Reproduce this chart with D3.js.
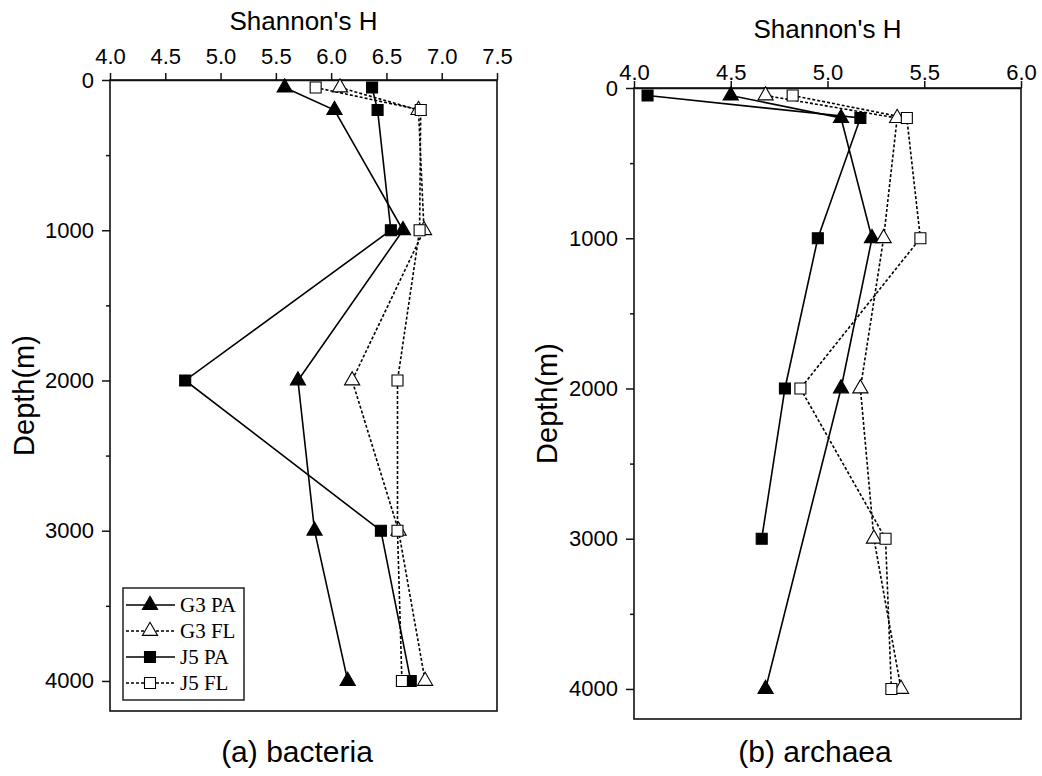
<!DOCTYPE html>
<html>
<head>
<meta charset="utf-8">
<script src="https://cdn.jsdelivr.net/npm/d3@7"></script>
<style>
  html, body { margin: 0; padding: 0; background: #fff; }
  svg { display: block; }
  text { font-family: "Liberation Sans", Arial, sans-serif; fill: #000; }
</style>
</head>
<body>
<svg id="chart" width="1042" height="776"></svg>
<script>
// ---------------- DATA ----------------
const depths = [50, 200, 1000, 2000, 3000, 4000];
const seriesNames = ["G3 PA", "G3 FL", "J5 PA", "J5 FL"];

const bacteriaG3PA = [5.58, 6.03, 6.65, 5.70, 5.85, 6.15];
const bacteriaG3FL = [6.08, 6.79, 6.84, 6.19, 6.61, 6.85];
const bacteriaJ5PA = [6.37, 6.42, 6.54, 4.68, 6.45, 6.72];
const bacteriaJ5FL = [5.86, 6.81, 6.80, 6.60, 6.60, 6.64];

const archaeaG3PA = [4.50, 5.07, 5.23, 5.07, null, 4.68];
const archaeaG3FL = [4.68, 5.36, 5.29, 5.17, 5.24, 5.38];
const archaeaJ5PA = [4.07, 5.17, 4.95, 4.78, 4.66, null];
const archaeaJ5FL = [4.82, 5.41, 5.48, 4.86, 5.30, 5.33];

const bacteriaTicksX = [4.0, 4.5, 5.0, 5.5, 6.0, 6.5, 7.0, 7.5];
const archaeaTicksX = [4.0, 4.5, 5.0, 5.5, 6.0];
const depthTicks = [0, 1000, 2000, 3000, 4000];
const depthMinorTicks = [500, 1500, 2500, 3500];
const depthDomain = [0, 4200];

// ---------------- STYLE ----------------
const styles = {
  "G3 PA": { symbol: d3.symbolTriangle, size: 100, fill: "#000", dash: null },
  "G3 FL": { symbol: d3.symbolTriangle, size: 100, fill: "#fff", dash: "3,2" },
  "J5 PA": { symbol: d3.symbolSquare, size: 121, fill: "#000", dash: null },
  "J5 FL": { symbol: d3.symbolSquare, size: 121, fill: "#fff", dash: "3,2" }
};

const svg = d3.select("#chart");

function drawPanel(cfg) {
  const x = d3.scaleLinear().domain(cfg.xDomain).range([cfg.left, cfg.right]);
  const y = d3.scaleLinear().domain(depthDomain).range([cfg.top, cfg.bottom]);
  const g = svg.append("g");

  // frame
  g.append("rect")
    .attr("x", cfg.left).attr("y", cfg.top)
    .attr("width", cfg.right - cfg.left).attr("height", cfg.bottom - cfg.top)
    .attr("fill", "none").attr("stroke", "#111").attr("stroke-width", 1.6);

  // top x axis
  const xAxis = g.append("g")
    .attr("transform", `translate(0,${cfg.top})`)
    .call(d3.axisTop(x).tickValues(cfg.xTicks).tickFormat(d3.format(".1f"))
      .tickSize(7).tickSizeOuter(0).tickPadding(cfg.xPad));
  xAxis.select(".domain").attr("stroke", "#111").attr("stroke-width", 1.6);
  xAxis.selectAll(".tick line").attr("stroke", "#111").attr("stroke-width", 1.5);
  xAxis.selectAll("text").style("font-size", "22px").style("font-family", "Liberation Sans, Arial, sans-serif").attr("fill", "#000");

  // left y axis (major)
  const yAxis = g.append("g")
    .attr("transform", `translate(${cfg.left},0)`)
    .call(d3.axisLeft(y).tickValues(depthTicks).tickFormat(d3.format("d"))
      .tickSize(8).tickSizeOuter(0).tickPadding(8));
  yAxis.select(".domain").remove();
  yAxis.selectAll(".tick line").attr("stroke", "#111").attr("stroke-width", 1.5);
  yAxis.selectAll("text").style("font-size", "22px").style("font-family", "Liberation Sans, Arial, sans-serif").attr("fill", "#000");

  // minor y ticks
  const yMinor = g.append("g")
    .attr("transform", `translate(${cfg.left},0)`)
    .call(d3.axisLeft(y).tickValues(depthMinorTicks).tickFormat("").tickSize(4).tickSizeOuter(0));
  yMinor.select(".domain").remove();
  yMinor.selectAll(".tick line").attr("stroke", "#111").attr("stroke-width", 1.5);

  // axis titles
  g.append("text")
    .attr("x", (cfg.left + cfg.right) / 2).attr("y", cfg.titleY)
    .attr("text-anchor", "middle").style("font-size", "26px")
    .text("Shannon's H");
  g.append("text")
    .attr("transform", `translate(${cfg.yLabelX},${(cfg.top + cfg.bottom) / 2}) rotate(-90)`)
    .attr("text-anchor", "middle").style("font-size", "29px")
    .text("Depth(m)");
  g.append("text")
    .attr("x", cfg.captionX).attr("y", cfg.captionY)
    .attr("text-anchor", "middle").style("font-size", "30px")
    .text(cfg.caption);

  // lines
  const line = d3.line().x(d => x(d.v)).y(d => y(d.d));
  cfg.series.forEach((vals, i) => {
    const name = seriesNames[i];
    const st = styles[name];
    const pts = depths.map((d, j) => ({ d: d, v: vals[j] })).filter(p => p.v !== null);
    g.append("path").datum(pts)
      .attr("d", line).attr("fill", "none")
      .attr("stroke", "#000").attr("stroke-width", 1.6)
      .attr("stroke-dasharray", st.dash);
  });
  // markers
  cfg.series.forEach((vals, i) => {
    const name = seriesNames[i];
    const st = styles[name];
    const pts = depths.map((d, j) => ({ d: d, v: vals[j] })).filter(p => p.v !== null);
    g.selectAll(null).data(pts).enter().append("path")
      .attr("d", d3.symbol().type(st.symbol).size(st.size))
      .attr("transform", p => `translate(${x(p.v)},${y(p.d)})`)
      .attr("fill", st.fill).attr("stroke", "#000").attr("stroke-width", 1.1);
  });
  return g;
}

const gA = drawPanel({
  left: 110, right: 497, top: 80, bottom: 711,
  xDomain: [4.0, 7.5], xTicks: bacteriaTicksX, xPad: 9,
  titleY: 30, yLabelX: 34, captionX: 297, captionY: 762,
  caption: "(a) bacteria",
  series: [bacteriaG3PA, bacteriaG3FL, bacteriaJ5PA, bacteriaJ5FL]
});

drawPanel({
  left: 634, right: 1021, top: 88, bottom: 719,
  xDomain: [4.0, 6.0], xTicks: archaeaTicksX, xPad: 1,
  titleY: 38, yLabelX: 557, captionX: 815, captionY: 762,
  caption: "(b) archaea",
  series: [archaeaG3PA, archaeaG3FL, archaeaJ5PA, archaeaJ5FL]
});

// legend (panel a)
const leg = gA.append("g");
leg.append("rect").attr("x", 123).attr("y", 588).attr("width", 121).attr("height", 112)
  .attr("fill", "#fff").attr("stroke", "#222").attr("stroke-width", 1.5);
seriesNames.forEach((name, i) => {
  const st = styles[name];
  const cy = 605 + i * 26;
  leg.append("line").attr("x1", 126).attr("x2", 175).attr("y1", cy).attr("y2", cy)
    .attr("stroke", "#000").attr("stroke-width", 1.6).attr("stroke-dasharray", st.dash);
  leg.append("path").attr("d", d3.symbol().type(st.symbol).size(st.size))
    .attr("transform", `translate(150,${cy})`)
    .attr("fill", st.fill).attr("stroke", "#000").attr("stroke-width", 1.1);
  leg.append("text").attr("x", 180).attr("y", cy + 7)
    .style("font-family", "Liberation Serif, Times New Roman, serif").style("font-size", "21px")
    .text(name);
});
</script>
</body>
</html>
